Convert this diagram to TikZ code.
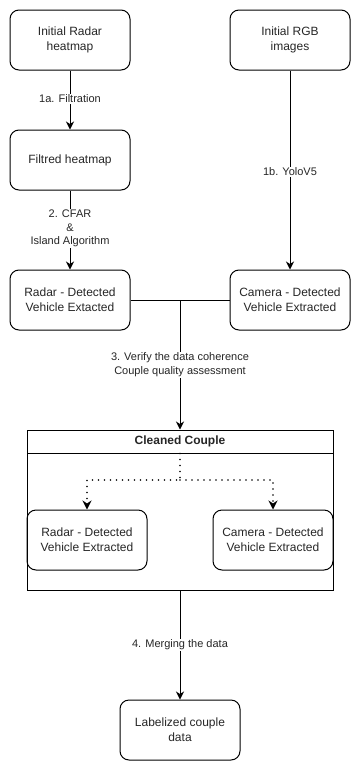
\documentclass[tikz,border=0pt]{standalone}
\usepackage{fontspec}
\setmainfont{Liberation Sans}
\usetikzlibrary{arrows.meta}
\begin{document}
\begin{tikzpicture}[x=1pt,y=-1pt,
  every node/.style={text=black!85},
  procbox/.style={draw=black, line width=1pt, rounded corners=9pt,
    minimum width=120pt, minimum height=60pt, align=center,
    font=\fontsize{12}{15}\selectfont, inner sep=0pt},
  flow/.style={draw=black, line width=1pt, -{Stealth[length=8pt,width=8pt,inset=2.5pt]}},
  plain/.style={draw=black, line width=1pt},
  dotflow/.style={draw=black, line width=1.6pt, line cap=round,
    dash pattern=on 0pt off 6pt, -{Stealth[length=9pt,width=9pt,inset=3pt]}},
  steplabel/.style={fill=white, align=center, inner sep=1pt,
    font=\fontsize{11}{13.5}\selectfont}
]
\useasboundingbox (0,0) rectangle (361,771);

% top row: raw inputs
\node[procbox] (radar0) at (70,40) {Initial Radar\\heatmap};
\node[procbox] (rgb0) at (290,40) {Initial RGB\\images};

% radar preprocessing
\node[procbox] (filt) at (70,160) {Filtred heatmap};

% per-sensor detections
\node[procbox] (radar1) at (70,300) {Radar - Detected\\Vehicle Extacted};
\node[procbox] (cam1) at (290,300) {Camera - Detected\\Vehicle Extracted};

% container holding the cleaned couple
\node[draw=black, line width=1pt, minimum width=306pt, minimum height=160pt,
  inner sep=0pt] (couple) at (180,510) {};
\node[draw=black, line width=1pt, minimum width=306pt, minimum height=23pt,
  inner sep=0pt, font=\bfseries\fontsize{12}{15}\selectfont] (coupletitle)
  at (180,441.5) {Cleaned Couple};
\node[procbox] (radar2) at (87,540) {Radar - Detected\\Vehicle Extracted};
\node[procbox] (cam2) at (273,540) {Camera - Detected\\Vehicle Extracted};

% final output
\node[procbox] (final) at (180,730) {Labelized couple\\data};

% junction points
\coordinate (join) at (180,300);
\coordinate (split) at (180,480);

% connectors
\draw[flow] (radar0.south) -- node[steplabel, pos=0.48] {1a. Filtration} (filt.north);
\draw[flow] (filt.south) -- node[steplabel, pos=0.48] {2. CFAR\\\&\\Island Algorithm} (radar1.north);
\draw[flow] (rgb0.south) -- node[steplabel, pos=0.51] {1b. YoloV5} (cam1.north);
\draw[plain] (radar1.east) -- (cam1.west);
\draw[flow] (join) -- node[steplabel, pos=0.5] {3. Verify the data coherence\\Couple quality assessment} (coupletitle.north);
\draw[dotflow] (coupletitle.south) -- (split) -| (radar2.north);
\draw[dotflow] (split) -| (cam2.north);
\draw[flow] (couple.south) -- node[steplabel, pos=0.5] {4. Merging the data} (final.north);
\end{tikzpicture}
\end{document}
